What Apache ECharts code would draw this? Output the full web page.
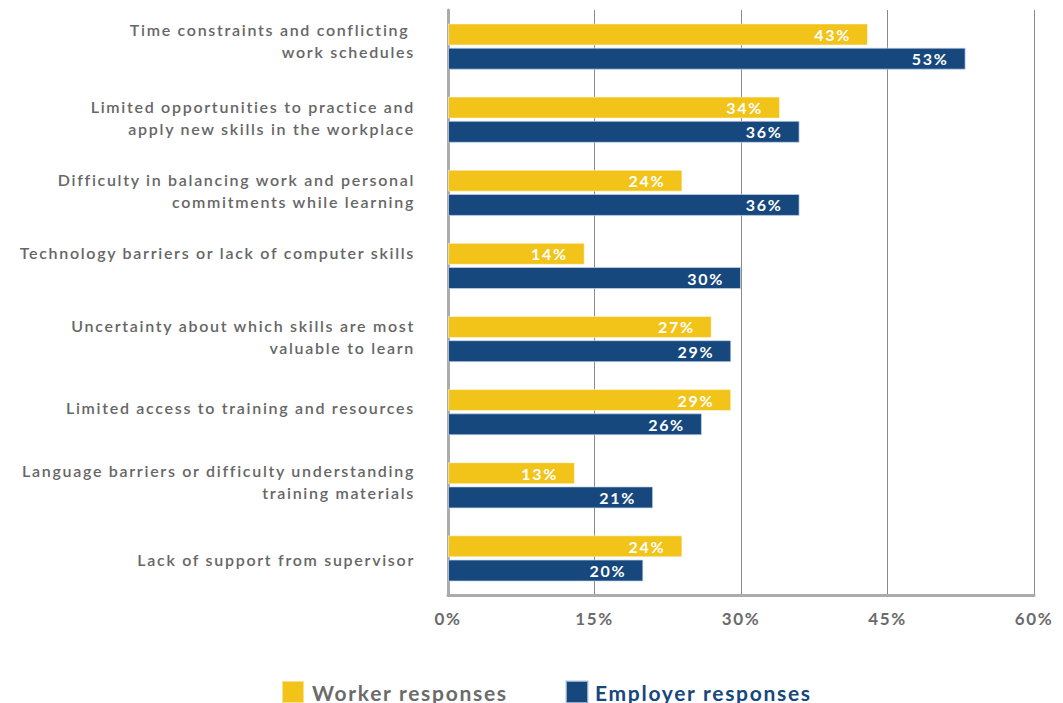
<!DOCTYPE html>
<html>
<head>
<meta charset="utf-8">
<title>Barriers to training</title>
<script src="https://cdn.jsdelivr.net/npm/echarts@6/dist/echarts.min.js"></script>
<style>
  html, body { margin: 0; padding: 0; background: #ffffff; }
  /* Lato set with open tracking */
  #chart { width: 1063px; height: 703px; letter-spacing: 1.7px; }
</style>
</head>
<body>
<div id="chart"></div>
<script>
// Barriers to learning new skills, as reported by workers and by employers (%)
const categories = [
  'Time constraints and conflicting \nwork schedules',
  'Limited opportunities to practice and\napply new skills in the workplace',
  'Difficulty in balancing work and personal\ncommitments while learning',
  'Technology barriers or lack of computer skills',
  'Uncertainty about which skills are most\nvaluable to learn',
  'Limited access to training and resources',
  'Language barriers or difficulty understanding\ntraining materials',
  'Lack of support from supervisor'
];
const workerValues   = [43, 34, 24, 14, 27, 29, 13, 24];
const employerValues = [53, 36, 36, 30, 29, 26, 21, 20];
const xTicks = [0, 15, 30, 45, 60];
const seriesNames = ['Worker responses', 'Employer responses'];

// Vertical nudge (px, upward) applied to each category label
const labelLift = [6, 2, 2.5, 13, 3, 5, 3.5, -1];

const YELLOW = '#F2C318';
const BLUE = '#16477D';
const FONT = 'Lato';
const LINE_H = 22;

// One rich style per category; its padding moves every line of that label
const richStyles = {};
labelLift.forEach((lift, i) => {
  richStyles['c' + i] = {
    align: 'right',
    lineHeight: LINE_H,
    padding: lift >= 0 ? [0, 0, 2 * lift, 0] : [-2 * lift, 0, 0, 0]
  };
});

function categoryLabel(value, index) {
  return value.split('\n').map(line => '{c' + index + '|' + line + '}').join('\n');
}

const chart = echarts.init(document.getElementById('chart'), null, { renderer: 'svg' });

const valueLabel = {
  show: true,
  position: 'insideRight',
  distance: 17,
  formatter: '{c}%',
  color: '#ffffff',
  fontFamily: FONT,
  fontWeight: 'bold',
  fontSize: 16
};

chart.setOption({
  animation: false,
  backgroundColor: '#ffffff',
  grid: { left: 448, right: 29, top: 10, bottom: 108 },
  legend: [
    {
      data: [{ name: seriesNames[0], textStyle: { color: '#6b6b6b' } }],
      left: 281, top: 680, padding: 0,
      icon: 'rect', itemWidth: 22, itemHeight: 22,
      textStyle: { fontFamily: FONT, fontWeight: 'bold', fontSize: 21, padding: [0, 0, 0, 3] }
    },
    {
      data: [{ name: seriesNames[1], textStyle: { color: BLUE } }],
      left: 565, top: 680, padding: 0,
      icon: 'rect', itemWidth: 22, itemHeight: 22,
      textStyle: { fontFamily: FONT, fontWeight: 'bold', fontSize: 21, padding: [0, 0, 0, 2] }
    }
  ],
  xAxis: {
    type: 'value',
    min: xTicks[0],
    max: xTicks[xTicks.length - 1],
    interval: xTicks[1] - xTicks[0],
    axisLine: { show: true, lineStyle: { color: '#ababab', width: 3 } },
    axisTick: { show: false },
    splitLine: { show: true, lineStyle: { color: '#8a8a8a', width: 1 } },
    axisLabel: {
      formatter: '{value}%',
      color: '#6b6b6b',
      fontFamily: FONT,
      fontWeight: 'bold',
      fontSize: 17,
      margin: 15
    }
  },
  yAxis: {
    type: 'category',
    inverse: true,
    data: categories,
    axisLine: { show: true, lineStyle: { color: '#ababab', width: 3 } },
    axisTick: { show: false },
    axisLabel: {
      color: '#666666',
      fontFamily: FONT,
      fontWeight: 600,
      fontSize: 16,
      lineHeight: LINE_H,
      margin: 33,
      align: 'right',
      formatter: categoryLabel,
      rich: richStyles
    }
  },
  series: [
    {
      name: seriesNames[0],
      type: 'bar',
      data: workerValues,
      barWidth: 22,
      barGap: '10%',
      itemStyle: { color: YELLOW, borderColor: 'rgba(255,255,255,0.5)', borderWidth: 1 },
      label: valueLabel
    },
    {
      name: seriesNames[1],
      type: 'bar',
      data: employerValues,
      barWidth: 22,
      barGap: '10%',
      itemStyle: { color: BLUE, borderColor: 'rgba(200,215,235,0.7)', borderWidth: 1 },
      label: valueLabel
    }
  ]
});
</script>
</body>
</html>
